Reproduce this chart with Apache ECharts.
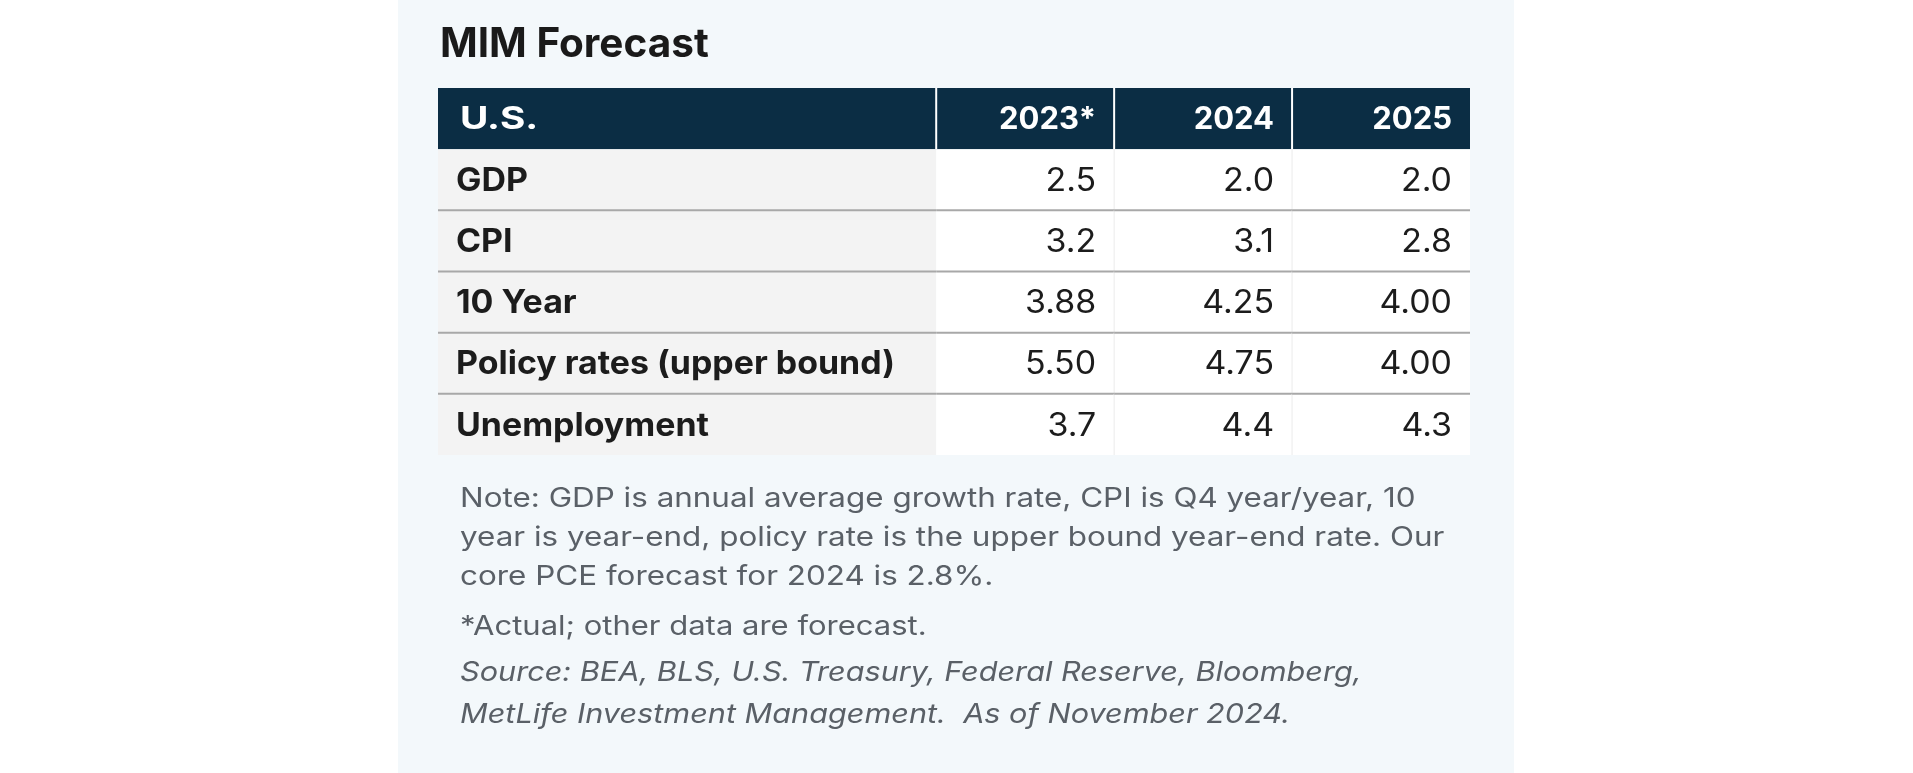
<!DOCTYPE html>
<html>
<head>
<meta charset="utf-8">
<script src="https://cdn.jsdelivr.net/npm/echarts@6/dist/echarts.min.js"></script>
<style>
  html, body { margin: 0; padding: 0; background: #ffffff; }
  #chart { width: 1913px; height: 773px; }
</style>
</head>
<body>
<div id="chart"></div>
<script>
// ---------- data ----------
const titleText = 'MIM Forecast';
const columnHeaders = ['U.S.', '2023*', '2024', '2025'];
const rowLabels = ['GDP', 'CPI', '10 Year', 'Policy rates (upper bound)', 'Unemployment'];
const values2023 = [2.5, 3.2, 3.88, 5.50, 3.7];
const values2024 = [2.0, 3.1, 4.25, 4.75, 4.4];
const values2025 = [2.0, 2.8, 4.00, 4.00, 4.3];
const rowDecimals = [1, 1, 2, 2, 1];
const noteLines = [
  'Note: GDP is annual average growth rate, CPI is Q4 year/year, 10',
  'year is year-end, policy rate is the upper bound year-end rate. Our',
  'core PCE forecast for 2024 is 2.8%.'
];
const footnoteLine = '*Actual; other data are forecast.';
const sourceLines = [
  'Source: BEA, BLS, U.S. Treasury, Federal Reserve, Bloomberg,',
  'MetLife Investment Management.  As of November 2024.'
];

// ---------- layout / style ----------
const FONT = 'Inter, "Noto Sans", sans-serif';
const colEdges = [0, 2.8, 3.8, 4.8, 5.8];   // column boundaries in axis units
const NAVY = '#0b2d44';
const valueCols = [values2023, values2024, values2025];

const rowCats = ['header'].concat(rowLabels);
const cells = [];
for (let r = 0; r < rowCats.length; r++) {
  for (let c = 0; c < columnHeaders.length; c++) {
    let txt;
    if (r === 0) txt = columnHeaders[c];
    else if (c === 0) txt = rowLabels[r - 1];
    else txt = valueCols[c - 1][r - 1].toFixed(rowDecimals[r - 1]);
    cells.push({ value: [c, r], txt: txt });
  }
}

function renderCell(params, api) {
  const c = api.value(0), r = api.value(1);
  const xL = api.coord([colEdges[c], r])[0];
  const xR = api.coord([colEdges[c + 1], r])[0];
  const yc = api.coord([0, r])[1];
  const h = api.size([0, 1])[1];
  const y0 = yc - h / 2;
  const txt = cells[params.dataIndex].txt;
  const children = [];
  const fill = r === 0 ? NAVY : (c === 0 ? '#f3f3f3' : '#ffffff');
  children.push({ type: 'rect', shape: { x: xL, y: y0, width: xR - xL, height: h }, style: { fill: fill } });
  if (r === 0 && c > 0) {
    children.push({ type: 'line', shape: { x1: xL, y1: y0, x2: xL, y2: y0 + h }, style: { stroke: '#ffffff', lineWidth: 2 } });
  }
  if (r > 0 && c > 1) {
    children.push({ type: 'line', shape: { x1: xL, y1: y0, x2: xL, y2: y0 + h }, style: { stroke: '#ebebeb', lineWidth: 1 } });
  }
  if (r > 1) {
    children.push({ type: 'line', shape: { x1: xL, y1: y0, x2: xR, y2: y0 }, style: { stroke: '#a8a8a8', lineWidth: 2 } });
  }
  const left = c === 0;
  let font, sx, fillTxt;
  if (r === 0) { font = 'bold 31px ' + FONT; sx = left ? 1.25 : 1.0; fillTxt = '#ffffff'; }
  else if (left) { font = 'bold 32px ' + FONT; sx = 1.06; fillTxt = '#1c1c1c'; }
  else { font = '32px ' + FONT; sx = 1.06; fillTxt = '#1c1c1c'; }
  children.push({
    type: 'text',
    x: left ? xL + (r === 0 ? 22 : 18) : xR - 18,
    y: yc + 1.5,
    scaleX: sx,
    style: {
      text: txt, x: 0, y: 0,
      align: left ? 'left' : 'right',
      textAlign: left ? 'left' : 'right',
      verticalAlign: 'middle',
      textVerticalAlign: 'middle',
      font: font,
      fill: fillTxt
    }
  });
  return { type: 'group', children: children };
}

function textEl(t, x, y, font, fill, sx) {
  return {
    type: 'text', x: x, y: y, scaleX: sx || 1,
    style: { text: t, x: 0, y: 0, font: font, fill: fill, align: 'left', verticalAlign: 'middle', textAlign: 'left', textVerticalAlign: 'middle' }
  };
}

const NOTE_COLOR = '#5a6067';
const graphicEls = [
  { type: 'rect', z: -10, shape: { x: 398, y: 0, width: 1116, height: 773 }, style: { fill: '#f3f8fb' } },
  textEl(titleText, 440, 45, 'bold 40.5px ' + FONT, '#1a1a1a', 1)
];
const noteY = [499.5, 538.5, 577.5];
noteLines.forEach((t, i) => graphicEls.push(textEl(t, 460, noteY[i], '26.5px ' + FONT, NOTE_COLOR, 1.185)));
graphicEls.push(textEl(footnoteLine, 460, 627, '26.5px ' + FONT, NOTE_COLOR, 1.17));
const srcY = [673, 715];
sourceLines.forEach((t, i) => graphicEls.push(textEl(t, 460, srcY[i], 'italic 27px ' + FONT, NOTE_COLOR, 1.135)));

const chart = echarts.init(document.getElementById('chart'), null, { renderer: 'canvas' });
chart.setOption({
  animation: false,
  backgroundColor: '#ffffff',
  graphic: { elements: graphicEls },
  grid: { left: 438, top: 88, width: 1032, height: 367, containLabel: false },
  xAxis: { type: 'value', min: 0, max: colEdges[colEdges.length - 1], show: false },
  yAxis: { type: 'category', data: rowCats, inverse: true, show: false },
  series: [{
    type: 'custom',
    renderItem: renderCell,
    data: cells.map(d => d.value),
    z: 5
  }]
});
</script>
</body>
</html>
